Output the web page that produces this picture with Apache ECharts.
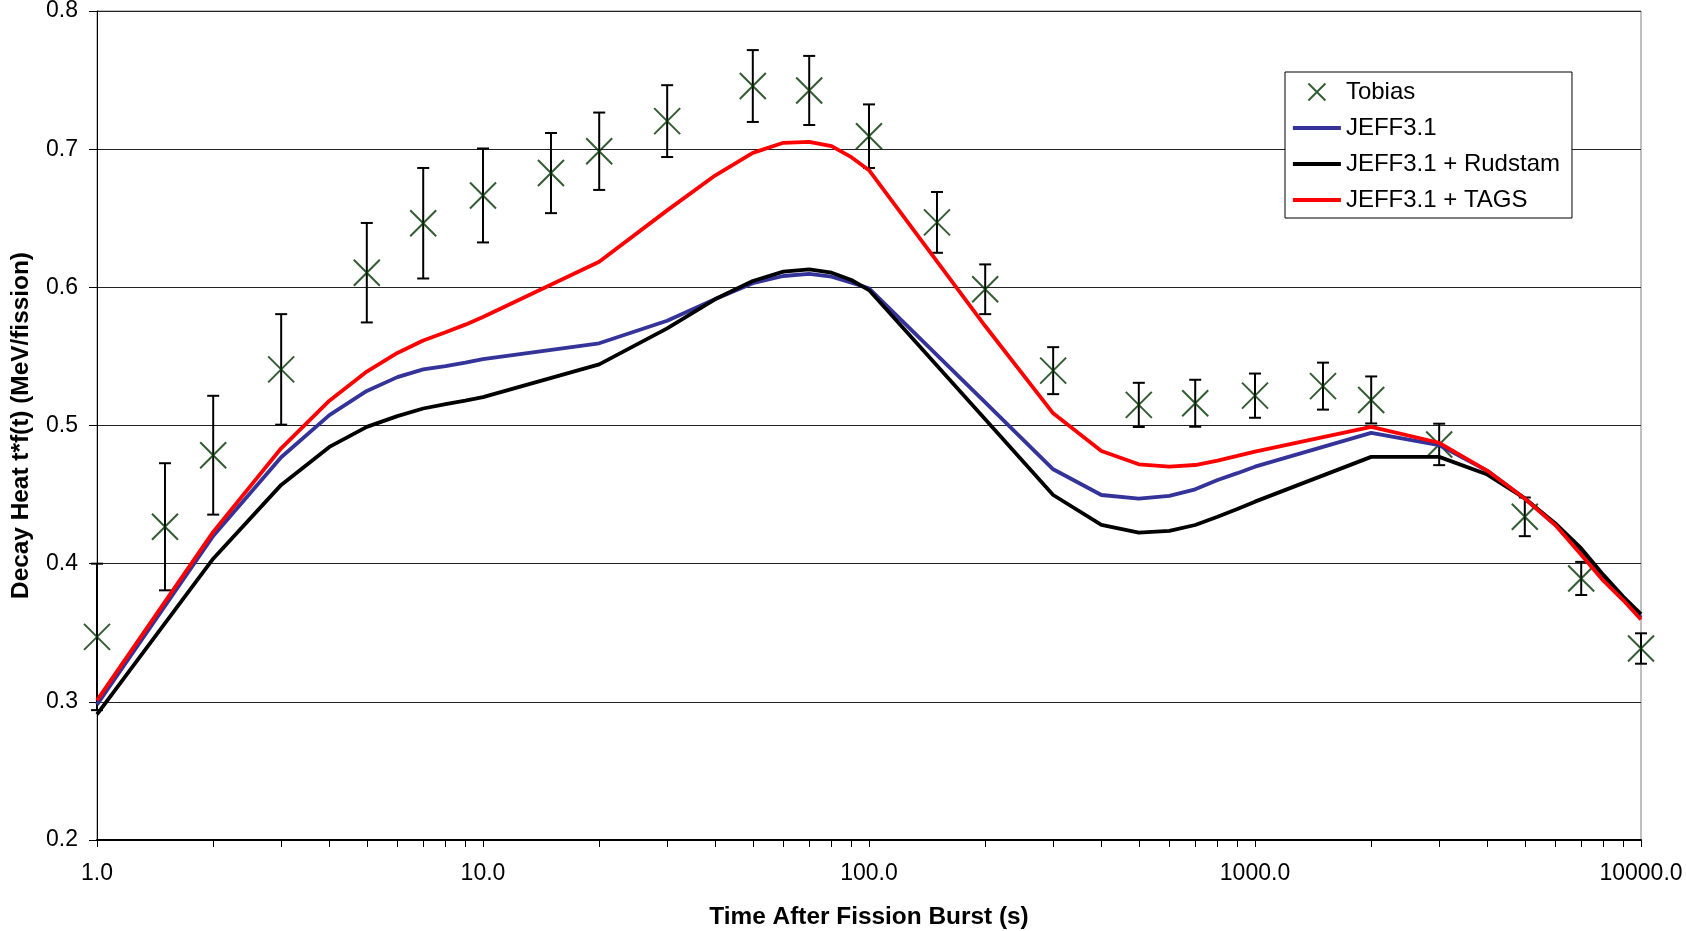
<!DOCTYPE html>
<html>
<head>
<meta charset="utf-8">
<script src="https://cdn.jsdelivr.net/npm/echarts@6/dist/echarts.min.js"></script>
<style>
  html, body { margin: 0; padding: 0; background: #fff; }
  #chart { width: 1686px; height: 931px; }
</style>
</head>
<body>
<div id="chart"></div>
<script>
// model curves share one time grid (s)
const modelTimes = [1, 2, 3, 4, 5, 6, 7, 8, 9, 10, 20, 30, 40, 50, 60, 70, 80, 90, 100,
  200, 300, 400, 500, 600, 700, 800, 900, 1000, 2000, 3000, 4000, 5000, 6000, 7000, 8000, 9000, 10000];

const jeff = [0.298, 0.420, 0.477, 0.5075, 0.525, 0.535, 0.5406, 0.543, 0.5455, 0.548,
  0.5595, 0.5758, 0.5915, 0.603, 0.6082, 0.6097, 0.6077, 0.6034, 0.5993,
  0.5168, 0.4683, 0.4497, 0.4471, 0.449, 0.4538, 0.4606, 0.4655, 0.4702,
  0.4947, 0.4858, 0.4672, 0.4472, 0.428, 0.408, 0.390, 0.3745, 0.361];

const jeffRudstam = [0.291, 0.4036, 0.457, 0.4845, 0.499, 0.5068, 0.5123, 0.5155, 0.518, 0.5205,
  0.5442, 0.5703, 0.5915, 0.6046, 0.6114, 0.613, 0.6106, 0.6053, 0.598,
  0.5045, 0.4497, 0.428, 0.4225, 0.4237, 0.428, 0.434, 0.4395, 0.4449,
  0.4773, 0.4773, 0.4645, 0.4472, 0.4291, 0.411, 0.3917, 0.376, 0.3635];

const jeffTags = [0.301, 0.423, 0.4835, 0.518, 0.539, 0.5525, 0.5615, 0.5675, 0.573, 0.5785,
  0.6185, 0.6557, 0.6811, 0.6973, 0.7046, 0.7053, 0.7022, 0.6942, 0.6848,
  0.572, 0.5088, 0.4816, 0.4719, 0.4702, 0.4714, 0.4746, 0.478, 0.4811,
  0.499, 0.4875, 0.4672, 0.4472, 0.4279, 0.4065, 0.3875, 0.3735, 0.3596];

// Tobias measurements with symmetric error
const tobiasTimes = [1, 1.5, 2, 3, 5, 7, 10, 15, 20, 30, 50, 70, 100, 150, 200, 300,
  500, 700, 1000, 1500, 2000, 3000, 5000, 7000, 10000];
const tobiasValues = [0.347, 0.4267, 0.4785, 0.5406, 0.6106, 0.6464, 0.6665, 0.6827, 0.6985, 0.7203,
  0.7457, 0.7425, 0.7094, 0.647, 0.5986, 0.5397, 0.5149, 0.5161, 0.5216, 0.5285,
  0.5185, 0.4863, 0.4339, 0.3893, 0.3386];
const tobiasErrors = [0.053, 0.046, 0.043, 0.040, 0.036, 0.040, 0.034, 0.029, 0.028, 0.026,
  0.026, 0.025, 0.023, 0.022, 0.018, 0.017, 0.016, 0.017, 0.016, 0.017,
  0.017, 0.015, 0.014, 0.012, 0.011];

const FONT = "'Liberation Sans', Arial, sans-serif";
const X_MARK = 'path://M0,0L20,20M20,0L0,20';
const LINE_W = 3.8;

const pairs = (xs, ys) => xs.map((x, i) => [x, ys[i]]);

function modelLine(name, values, color, z) {
  return {
    name,
    type: 'line',
    z,
    symbol: 'none',
    lineStyle: { color, width: LINE_W },
    // keeps the legend to a plain line, no dot
    itemStyle: { color: 'transparent', borderWidth: 0 },
    data: pairs(modelTimes, values),
  };
}

const chart = echarts.init(document.getElementById('chart'), null, { renderer: 'canvas' });

chart.setOption({
  animation: false,
  backgroundColor: '#fff',
  textStyle: { fontFamily: FONT },
  grid: {
    left: 97, right: 45, top: 11, bottom: 91,
    outerBoundsMode: 'none',
    containLabel: false,
    show: true, borderColor: '#808080', borderWidth: 1, backgroundColor: 'transparent',
  },
  legend: {
    orient: 'vertical',
    left: 1285,
    top: 72,
    padding: [8, 12, 6, 6],
    itemGap: 12,
    itemWidth: 48,
    itemHeight: 17,
    backgroundColor: '#fff',
    borderColor: '#000',
    borderWidth: 1,
    borderRadius: 0,
    lineStyle: { width: LINE_W },
    textStyle: { fontSize: 24, lineHeight: 24, color: '#000', fontFamily: FONT },
    data: ['Tobias', 'JEFF3.1', 'JEFF3.1 + Rudstam', 'JEFF3.1 + TAGS'],
  },
  xAxis: {
    type: 'log',
    logBase: 10,
    min: 1,
    max: 10000,
    name: 'Time After Fission Burst (s)',
    nameLocation: 'middle',
    nameGap: 65,
    nameTextStyle: { fontSize: 24.4, fontWeight: 'bold', color: '#000', fontFamily: FONT },
    axisLine: { lineStyle: { color: '#000', width: 2 } },
    axisTick: { inside: false, length: 7, lineStyle: { color: '#000', width: 1 } },
    minorTick: { show: true, splitNumber: 9, length: 7, lineStyle: { color: '#000', width: 1 } },
    axisLabel: {
      fontSize: 23, color: '#000', margin: 22, fontFamily: FONT,
      formatter: (v) => Number(v).toFixed(1),
    },
    splitLine: { show: false },
  },
  yAxis: {
    type: 'value',
    min: 0.2,
    max: 0.8,
    interval: 0.1,
    name: 'Decay Heat t*f(t) (MeV/fission)',
    nameLocation: 'middle',
    nameGap: 64,
    nameTextStyle: { fontSize: 24.4, fontWeight: 'bold', color: '#000', fontFamily: FONT },
    axisLine: { show: true, lineStyle: { color: '#000', width: 1 } },
    axisTick: { show: true, inside: false, length: 8, lineStyle: { color: '#000' } },
    axisLabel: {
      fontSize: 23, color: '#000', margin: 19, fontFamily: FONT,
      formatter: (v) => v.toFixed(1),
    },
    splitLine: { show: true, lineStyle: { color: '#222', width: 1 } },
  },
  series: [
    {
      name: 'Tobias error',
      type: 'custom',
      z: 2,
      silent: true,
      data: tobiasTimes.map((t, i) => [t, tobiasValues[i] - tobiasErrors[i], tobiasValues[i] + tobiasErrors[i]]),
      encode: { x: 0, y: [1, 2] },
      renderItem: (params, api) => {
        const top = api.coord([api.value(0), api.value(2)]);
        const bot = api.coord([api.value(0), api.value(1)]);
        const cap = 6;
        const style = { stroke: '#000', lineWidth: 2 };
        return {
          type: 'group',
          children: [
            { type: 'line', shape: { x1: top[0], y1: top[1], x2: bot[0], y2: bot[1] }, style },
            { type: 'line', shape: { x1: top[0] - cap, y1: top[1], x2: top[0] + cap, y2: top[1] }, style },
            { type: 'line', shape: { x1: bot[0] - cap, y1: bot[1], x2: bot[0] + cap, y2: bot[1] }, style },
          ],
        };
      },
    },
    {
      name: 'Tobias',
      type: 'scatter',
      z: 3,
      symbol: X_MARK,
      symbolSize: 26,
      itemStyle: { color: 'transparent', borderColor: '#003300', borderWidth: 2 },
      data: pairs(tobiasTimes, tobiasValues),
    },
    modelLine('JEFF3.1', jeff, '#333399', 4),
    modelLine('JEFF3.1 + Rudstam', jeffRudstam, '#000000', 5),
    modelLine('JEFF3.1 + TAGS', jeffTags, '#ff0000', 6),
  ],
});
</script>
</body>
</html>
